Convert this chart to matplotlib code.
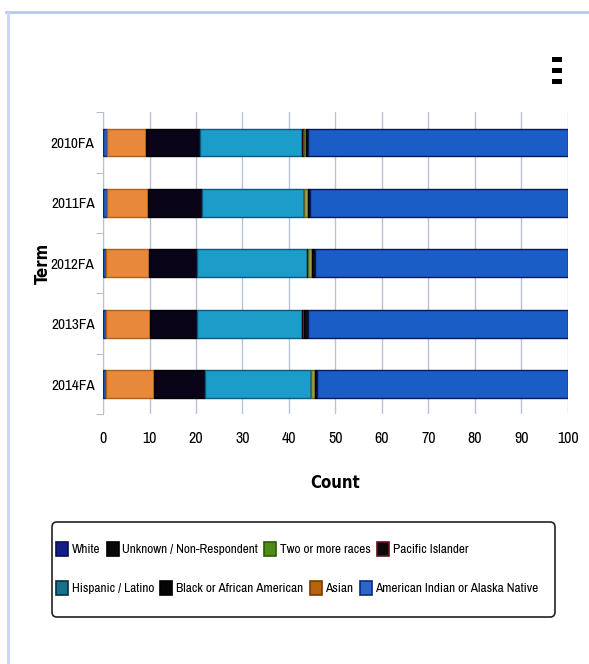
import matplotlib
matplotlib.use('Agg')
import numpy as np
import matplotlib.pyplot as plt
from matplotlib.patches import FancyBboxPatch, Rectangle, Patch
from matplotlib.lines import Line2D
from matplotlib import font_manager

# pick a narrow family if one is around
names = sorted({f.name for f in font_manager.fontManager.ttflist})
narrow = [n for n in names if 'Narrow' in n or 'Condensed' in n]
plt.rcParams['font.family'] = narrow[:1] + ['DejaVu Sans']
plt.rcParams['font.stretch'] = 'condensed'
bold_font = dict(family=['DejaVu Sans'], stretch='condensed', weight='bold')

# terms, top to bottom
terms = ['2010FA', '2011FA', '2012FA', '2013FA', '2014FA']

# percentage of students per group (left to right in each bar)
american_indian = [0.8, 0.8, 0.6, 0.6, 0.6]
asian = [8.4, 8.9, 9.2, 9.5, 10.4]
black = [11.7, 11.5, 10.5, 10.2, 10.9]
hispanic = [21.8, 22.0, 23.5, 22.4, 22.8]
pacific_islander = [0.6, 0.0, 0.3, 0.5, 0.0]
two_or_more = [0.3, 1.0, 0.8, 0.0, 0.8]
unknown = [0.6, 0.3, 0.6, 1.0, 0.5]
white = [55.8, 55.5, 54.5, 55.8, 54.0]

legend_row1 = ['White', 'Unknown / Non-Respondent', 'Two or more races', 'Pacific Islander']
legend_row2 = ['Hispanic / Latino', 'Black or African American', 'Asian',
               'American Indian or Alaska Native']

# bar colours and legend swatch colours
bar_colors = {
    'American Indian or Alaska Native': ('#1f5cc4', '#0b2a80'),
    'Asian': ('#e8883a', '#b0601a'),
    'Black or African American': ('#0a0418', '#000000'),
    'Hispanic / Latino': ('#1b9cc9', '#0a5a80'),
    'Pacific Islander': ('#c03040', '#200000'),
    'Two or more races': ('#9aa040', '#5a6020'),
    'Unknown / Non-Respondent': ('#111111', '#000000'),
    'White': ('#1a5dc6', '#061860'),
}
swatch_colors = {
    'White': ('#14208a', '#0a1050'),
    'Unknown / Non-Respondent': ('#080808', '#000000'),
    'Two or more races': ('#4e8c16', '#2c5a08'),
    'Pacific Islander': ('#0a0a0a', '#6a1020'),
    'Hispanic / Latino': ('#16708e', '#0a3040'),
    'Black or African American': ('#050505', '#000000'),
    'Asian': ('#b8640e', '#7a3a00'),
    'American Indian or Alaska Native': ('#2a68c8', '#0a2a80'),
}

series = [
    ('American Indian or Alaska Native', american_indian),
    ('Asian', asian),
    ('Black or African American', black),
    ('Hispanic / Latino', hispanic),
    ('Pacific Islander', pacific_islander),
    ('Two or more races', two_or_more),
    ('Unknown / Non-Respondent', unknown),
    ('White', white),
]

fig = plt.figure(figsize=(5.89, 6.64), dpi=100)
ax = fig.add_axes([0.175, 0.376, 0.789, 0.455])

y = np.arange(len(terms))
left = np.zeros(len(terms))
for name, vals in series:
    fc, ec = bar_colors[name]
    ax.barh(y, vals, left=left, height=0.46, color=fc, edgecolor=ec,
            linewidth=1.0, zorder=3)
    left += np.array(vals)

ax.set_xlim(0, 100)
ax.set_ylim(len(terms) - 0.5, -0.5)
ax.set_xticks(np.arange(0, 101, 10))
ax.set_yticks(y)
ax.set_yticklabels(terms)
ax.set_yticks(np.arange(-0.5, len(terms), 1), minor=True)
ax.tick_params(axis='y', which='major', length=0, pad=6, labelsize=11)
ax.tick_params(axis='y', which='minor', length=5, color='#a0b0d0')
ax.tick_params(axis='x', length=0, pad=12, labelsize=11.5)
ax.grid(True, axis='x', color='#b8c2d8', linewidth=1, zorder=0)
for s in ['top', 'right', 'bottom']:
    ax.spines[s].set_visible(False)
ax.spines['left'].set_color('#b0c0e0')
ax.set_xlabel('Count', fontsize=12, labelpad=20, **bold_font)
ax.set_ylabel('Term', fontsize=12, labelpad=-1, **bold_font)

# legend box
fig.add_artist(FancyBboxPatch((52 / 589, 1 - 617 / 664), 503 / 589, 95 / 664,
                              boxstyle='round,pad=0,rounding_size=0.008',
                              transform=fig.transFigure, facecolor='white',
                              edgecolor='#222222', linewidth=1.2))

def make_handles(names):
    return [Patch(facecolor=swatch_colors[n][0], edgecolor=swatch_colors[n][1],
                  linewidth=1.2) for n in names]

leg_kw = dict(ncol=4, frameon=False, loc='center left', fontsize=9.6,
              handlelength=0.9, handleheight=1.35, handletextpad=0.3,
              columnspacing=0.45, borderaxespad=0, borderpad=0)
fig.legend(make_handles(legend_row1), legend_row1,
           bbox_to_anchor=(56 / 589, 1 - 549 / 664), **leg_kw)
fig.legend(make_handles(legend_row2), legend_row2,
           bbox_to_anchor=(56 / 589, 1 - 588 / 664), **leg_kw)

# page frame lines
fig.add_artist(Line2D([0.01, 1.0], [1 - 12 / 664, 1 - 12 / 664],
                      transform=fig.transFigure, color='#b8c8f0', linewidth=2))
fig.add_artist(Line2D([8 / 589, 8 / 589], [0.0, 1 - 12 / 664],
                      transform=fig.transFigure, color='#c8d4f4', linewidth=2))

# menu icon
for yy in [57, 68, 79]:
    fig.add_artist(Rectangle((552 / 589, 1 - (yy + 5) / 664), 10 / 589, 5 / 664,
                             transform=fig.transFigure, facecolor='black',
                             edgecolor='none'))

fig.savefig('out.png', dpi=100)
